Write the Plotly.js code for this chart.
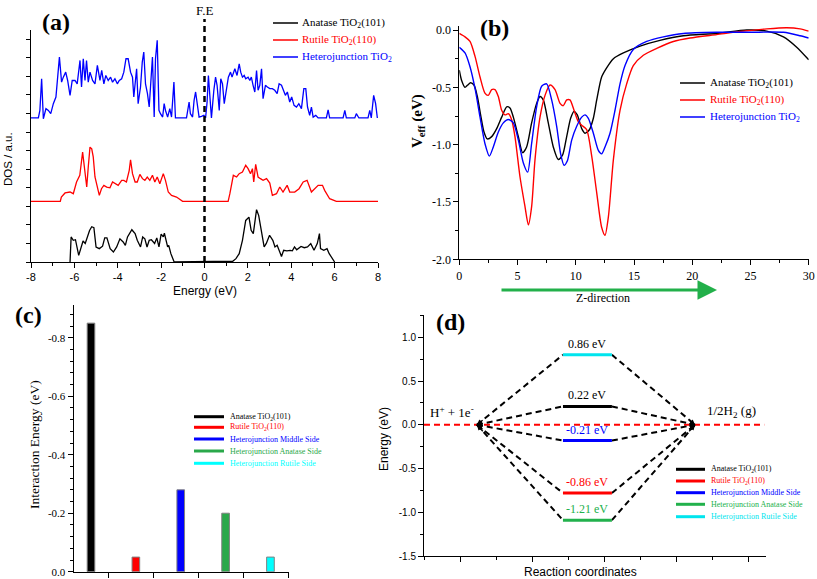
<!DOCTYPE html>
<html><head><meta charset="utf-8">
<script src="https://cdn.plot.ly/plotly-3.0.1.min.js"></script>
<style>html,body{margin:0;padding:0;background:#fff}#chart{width:817px;height:579px}</style>
</head><body><div id="chart"></div>
<script>
// ---------- Panel (a): DOS (offset curves, axis units) ----------
const anatE = [-6.2,-6.15,-6.05,-5.95,-5.8,-5.7,-5.6,-5.5,-5.4,-5.3,-5.2,-5.1,-5.0,-4.85,-4.7,-4.6,-4.5,-4.35,-4.2,-4.05,-3.9,-3.75,-3.65,-3.55,-3.35,-3.2,-3.1,-2.95,-2.85,-2.75,-2.65,-2.55,-2.45,-2.3,-2.2,-2.1,-2.0,-1.9,-1.85,-1.7,-1.65,-1.55,-1.4,1.15,1.3,1.45,1.6,1.75,1.9,2.05,2.15,2.25,2.4,2.5,2.65,2.75,2.85,3.0,3.15,3.25,3.35,3.55,3.65,3.8,3.95,4.05,4.15,4.25,4.45,4.6,4.75,4.9,5.05,5.2,5.3,5.35,5.5,5.65,5.75,5.85,6.0];
const anatDOS = [0,1.35,1.17,1.2,0.36,0.81,1.13,1.0,1.35,1.7,1.9,1.85,0.81,0.72,0.85,1.3,1.3,0.72,0.54,0.81,1.25,1.08,0.9,1.35,1.74,1.53,1.17,0.81,1.35,1.25,0.81,1.17,1.2,1.0,1.3,0.81,1.5,1.35,1.55,0.81,0.9,0.45,0,0,0.04,0.18,0.45,1.17,2.24,2.42,1.71,1.53,2.82,2.5,1.53,0.81,1.0,1.44,1.17,0.81,0.9,0.3,0.63,0.6,0.63,0.6,0.81,0.66,0.84,0.77,0.81,0.99,0.63,0.99,1.53,0.72,0.63,0.72,0.45,0.27,0];
const rutE = [-8,-6.65,-6.6,-6.43,-6.2,-6.05,-5.9,-5.75,-5.62,-5.5,-5.43,-5.36,-5.28,-5.2,-5.13,-5.05,-4.95,-4.85,-4.75,-4.64,-4.51,-4.36,-4.24,-4.08,-3.98,-3.82,-3.72,-3.6,-3.47,-3.41,-3.32,-3.2,-3.1,-2.98,-2.86,-2.75,-2.64,-2.52,-2.4,-2.29,-2.18,-2.06,-1.9,-1.8,-1.67,-1.52,-1.29,-1.01,1.09,1.17,1.33,1.48,1.6,1.75,1.9,2.01,2.12,2.21,2.27,2.36,2.47,2.58,2.7,2.86,3.01,3.13,3.32,3.47,3.62,3.81,3.93,4.16,4.36,4.55,4.73,4.93,5.08,5.24,5.44,5.54,5.77,6.08,8];
const rutDOS = [3.27,3.27,3.50,3.72,3.77,3.68,4.31,4.67,5.92,4.76,4.04,5.12,6.19,6.10,5.66,4.58,4.13,3.59,3.95,4.13,4.04,4.00,4.31,4.22,4.13,4.40,4.40,4.31,4.94,5.51,4.76,4.31,4.31,4.72,4.49,4.40,4.58,4.40,4.67,4.31,4.58,4.22,4.76,4.40,3.77,3.59,3.50,3.27,3.27,3.68,4.67,4.58,4.76,4.85,5.21,5.03,4.76,5.03,4.31,5.26,4.58,4.49,4.40,4.49,4.25,3.59,3.68,4.04,3.77,4.13,3.77,3.77,3.95,4.31,4.40,3.77,3.95,4.13,4.13,3.86,3.41,3.27,3.27];
const hetE = [-8,-7.66,-7.59,-7.51,-7.43,-7.31,-7.2,-7.09,-6.97,-6.85,-6.69,-6.59,-6.51,-6.4,-6.31,-6.2,-6.1,-5.97,-5.87,-5.74,-5.67,-5.59,-5.51,-5.44,-5.36,-5.28,-5.16,-5.05,-4.94,-4.82,-4.74,-4.64,-4.55,-4.44,-4.33,-4.24,-4.13,-4.02,-3.93,-3.82,-3.72,-3.62,-3.52,-3.41,-3.32,-3.26,-3.13,-3.06,-2.95,-2.87,-2.8,-2.72,-2.63,-2.55,-2.49,-2.4,-2.32,-2.26,-2.18,-2.1,-2.03,-1.93,-1.86,-1.8,-1.7,-1.6,-1.52,-1.41,-1.34,-0.83,-0.71,-0.65,-0.55,-0.48,-0.41,-0.32,-0.25,-0.14,-0.03,0.05,0.12,0.18,0.25,0.32,0.43,0.51,0.58,0.68,0.75,0.83,0.91,1.01,1.1,1.2,1.27,1.4,1.5,1.6,1.67,1.75,1.83,1.9,2.01,2.09,2.16,2.24,2.32,2.4,2.47,2.55,2.63,2.7,2.81,2.9,3.01,3.13,3.24,3.35,3.44,3.55,3.62,3.73,3.82,3.93,4.02,4.13,4.24,4.35,4.47,4.58,4.67,4.75,4.85,4.93,5.01,5.13,5.24,5.62,5.7,5.77,6.39,6.47,6.54,6.93,7.0,7.12,7.54,7.62,7.69,7.8,7.89,7.97];
const hetDOS = [7.76,7.76,8.17,9.87,7.72,8.26,8.17,7.99,8.53,8.89,11.04,9.69,9.96,10.23,9.78,8.98,9.78,9.78,9.60,10.86,9.43,10.95,9.78,10.86,9.69,10.23,9.78,9.60,10.59,9.78,10.32,9.60,10.05,9.78,9.96,9.69,9.87,9.60,9.78,9.87,10.23,10.95,10.95,10.23,9.96,8.89,10.41,8.53,9.43,10.77,11.31,9.60,9.07,8.35,9.43,11.04,7.81,10.95,11.94,8.17,7.99,7.81,8.53,8.17,7.81,8.26,7.81,9.69,7.76,7.76,8.62,7.99,7.81,8.71,9.16,8.53,7.81,7.85,7.90,7.76,8.62,10.05,9.07,7.76,9.25,9.96,9.52,8.17,9.87,9.60,8.53,9.25,9.96,10.23,9.96,10.41,10.05,10.68,10.23,9.96,10.05,9.87,9.96,9.78,9.96,9.52,9.16,10.32,9.25,9.52,10.41,8.80,9.52,9.43,9.34,9.34,9.25,9.07,9.60,9.52,9.34,8.98,9.16,8.62,8.89,8.44,8.35,8.53,8.26,9.34,9.34,8.35,7.90,8.35,7.81,7.90,7.76,7.76,8.20,7.76,7.76,8.17,7.76,7.76,7.99,7.76,7.76,8.17,7.76,8.98,8.53,7.76];
const fermiEnergy = 0;

// ---------- Panel (b): effective potential ----------
const zAnat = [0,0.2,0.49,0.72,0.97,1.26,1.55,1.83,2.12,2.4,2.78,3.21,3.64,4.07,4.35,4.64,5.07,5.44,5.78,6.21,6.64,6.93,7.21,7.64,8.07,8.5,8.87,9.22,9.56,9.85,10.13,10.51,10.79,11.17,11.51,11.8,12.22,12.65,13.23,14.09,15.52,17.23,19.24,22.1,24.68,26.4,27.83,28.97,30];
const vAnat = [-0.35,-0.44,-0.5,-0.48,-0.46,-0.48,-0.58,-0.74,-0.89,-0.95,-0.93,-0.86,-0.76,-0.67,-0.68,-0.76,-0.93,-1.07,-1.02,-0.81,-0.64,-0.58,-0.61,-0.81,-1.02,-1.13,-1.09,-0.93,-0.77,-0.71,-0.74,-0.86,-0.9,-0.87,-0.77,-0.61,-0.41,-0.33,-0.25,-0.2,-0.14,-0.09,-0.05,-0.03,0,-0.01,-0.06,-0.15,-0.26];
const zRut = [0,0.49,0.92,1.35,1.78,2.2,2.49,2.78,3.06,3.35,3.64,3.92,4.21,4.49,4.78,5.21,5.64,5.93,6.21,6.5,6.93,7.36,7.79,8.22,8.65,8.93,9.22,9.5,9.85,10.22,10.51,10.94,11.37,11.8,12.22,12.51,12.8,13.23,13.8,14.37,14.94,15.8,16.95,18.38,19.81,22.1,24.39,26.4,28.11,29.26,30];
const vRut = [-0.03,-0.06,-0.1,-0.23,-0.41,-0.55,-0.57,-0.52,-0.52,-0.58,-0.7,-0.74,-0.73,-0.78,-0.93,-1.28,-1.54,-1.7,-1.54,-1.13,-0.76,-0.57,-0.48,-0.52,-0.64,-0.66,-0.61,-0.61,-0.7,-0.8,-0.83,-0.87,-1.1,-1.42,-1.72,-1.79,-1.63,-1.13,-0.7,-0.47,-0.31,-0.22,-0.16,-0.10,-0.07,-0.04,-0.01,0.01,0.02,0.01,-0.01];
const zHet = [0,0.49,0.92,1.35,1.78,2.2,2.58,2.92,3.35,3.78,4.21,4.64,5.07,5.5,5.87,6.21,6.64,7.07,7.5,7.93,8.36,8.7,8.99,9.28,9.65,10.08,10.51,10.79,11.08,11.51,11.94,12.22,12.51,12.94,13.37,13.8,14.23,14.94,16.09,17.52,19.24,22.1,24.96,27.83,29.26,30];
const vHet = [-0.15,-0.2,-0.32,-0.51,-0.76,-0.99,-1.1,-1.02,-0.89,-0.81,-0.78,-0.81,-0.96,-1.16,-1.24,-0.99,-0.67,-0.49,-0.47,-0.61,-0.84,-1.08,-1.18,-1.14,-0.96,-0.84,-0.76,-0.74,-0.77,-0.9,-1.05,-1.08,-1.02,-0.9,-0.7,-0.47,-0.31,-0.17,-0.1,-0.06,-0.03,-0.02,-0.02,-0.02,-0.05,-0.07];

// ---------- Panel (c): interaction energy ----------
const sites = ['Anatase TiO<sub>2</sub>(101)','Rutile TiO<sub>2</sub>(110)','Heterojunction Middle Side','Heterojunction Anatase Side','Heterojunction Rutile Side'];
const interactionEnergy = [-0.85,-0.05,-0.28,-0.20,-0.05];
const siteColors = ['#000000','#ff0000','#0000ff','#2aa84a','#00ffff'];

// ---------- Panel (d): HER free energy diagram ----------
const levelEnergy = [0.21,-0.78,-0.18,-1.09,0.80];
const levelLabels = ['0.22 eV','-0.86 eV','-0.21 eV','-1.21 eV','0.86 eV'];
const levelColors = ['#000000','#ff0000','#0000ff','#22b14c','#00e5ee'];
const startX = 1.47, levelX0 = 3.86, levelX1 = 5.22, endX = 7.53;

// ---------- helpers ----------
const W = 817, H = 579;
const px = x => x / W, py = y => 1 - y / H;
const serif = 'Liberation Serif, Times New Roman, serif';
const sans = 'Liberation Sans, Arial, sans-serif';

const traces = [];
// (a)
traces.push({x: anatE, y: anatDOS, xaxis:'x', yaxis:'y', mode:'lines', line:{color:'#000', width:1.3}});
traces.push({x: rutE, y: rutDOS, xaxis:'x', yaxis:'y', mode:'lines', line:{color:'#ff0000', width:1.3}});
traces.push({x: hetE, y: hetDOS, xaxis:'x', yaxis:'y', mode:'lines', line:{color:'#0000ff', width:1.3}});
// (b)
traces.push({x: zAnat, y: vAnat, xaxis:'x2', yaxis:'y2', mode:'lines', line:{color:'#000', width:1.4, shape:'spline', smoothing:0.7}});
traces.push({x: zRut, y: vRut, xaxis:'x2', yaxis:'y2', mode:'lines', line:{color:'#ff0000', width:1.4, shape:'spline', smoothing:0.7}});
traces.push({x: zHet, y: vHet, xaxis:'x2', yaxis:'y2', mode:'lines', line:{color:'#0000ff', width:1.4, shape:'spline', smoothing:0.7}});
// (c)
traces.push({type:'bar', x: sites.map((s,i)=>i+1), y: interactionEnergy, xaxis:'x3', yaxis:'y3', width:0.17,
  marker:{color: siteColors, line:{color:'#808080', width:1}}, hovertext: sites});
// (d)
traces.push({x:[0, 9.45], y:[0,0], xaxis:'x4', yaxis:'y4', mode:'lines', line:{color:'#ff0000', width:2, dash:'6px,4px'}});
levelEnergy.forEach((lv,i) => {
  traces.push({x:[startX, levelX0, null, levelX1, endX], y:[0, lv, null, lv, 0], xaxis:'x4', yaxis:'y4', mode:'lines',
    line:{color:'#000', width:2, dash:'6px,4px'}});
});
levelEnergy.forEach((lv,i) => {
  traces.push({x:[levelX0, levelX1], y:[lv, lv], xaxis:'x4', yaxis:'y4', mode:'lines', line:{color: levelColors[i], width:3}});
});

const shapes = [];
const annotations = [];
function txt(x, y, text, size, family, extra) {
  annotations.push(Object.assign({xref:'paper', yref:'paper', x, y, text, showarrow:false,
    font:{size, family, color:'#000'}, xanchor:'center', yanchor:'middle'}, extra||{}));
}
function legend(x0, x1, xt, rows, labels, colors, size, lw) {
  labels.forEach((l,i) => {
    shapes.push({type:'line', xref:'paper', yref:'paper', x0:px(x0), x1:px(x1), y0:py(rows[i]), y1:py(rows[i]), line:{color:colors[i], width:lw}});
    txt(px(xt), py(rows[i]), l, size, serif, {xanchor:'left', font:{size, family:serif, color: colors[i]}});
  });
}

// panel labels
txt(px(40), py(22), '<b>(a)</b>', 24, serif, {xanchor:'left'});
txt(px(478), py(28), '<b>(b)</b>', 24, serif, {xanchor:'left'});
txt(px(13), py(315), '<b>(c)</b>', 24, serif, {xanchor:'left'});
txt(px(434), py(322), '<b>(d)</b>', 24, serif, {xanchor:'left'});

// (a) extras
shapes.push({type:'line', xref:'x', yref:'paper', x0:fermiEnergy, x1:fermiEnergy, y0:py(262), y1:py(19), line:{color:'#000', width:2.5, dash:'6px,4px'}});
annotations.push({xref:'x', yref:'paper', x:fermiEnergy, y:py(1), yanchor:'top', text:'F.E', showarrow:false, font:{size:13, family:serif, color:'#000'}});
txt(px(204.5), py(291), 'Energy (eV)', 12, sans);
txt(px(8), py(159), 'DOS / a.u.', 11.5, sans, {textangle:-90});
legend(273, 298, 300, [23,40,57], ['Anatase TiO<sub>2</sub>(101)','Rutile TiO<sub>2</sub>(110)','Heterojunction TiO<sub>2</sub>'], ['#000','#ff0000','#0000ff'], 11, 1.5);

// (b) extras
txt(px(418), py(121), '<b>V<sub>eff</sub> (eV)</b>', 15, serif, {textangle:-90});
legend(680, 705, 708, [83,100,117], ['Anatase TiO<sub>2</sub>(101)','Rutile TiO<sub>2</sub>(110)','Heterojunction TiO<sub>2</sub>'], ['#000','#ff0000','#0000ff'], 11, 1.5);
annotations.push({xref:'paper', yref:'paper', x:px(717), y:py(290), ax:-217, ay:0, axref:'pixel', ayref:'pixel', text:'', showarrow:true,
  arrowhead:2, arrowsize:1.3, arrowwidth:3, arrowcolor:'#22b04a'});
txt(px(603), py(298), 'Z-direction', 12, serif);

// (c) extras
txt(px(34), py(445), 'Interaction Energy (eV)', 13.5, serif, {textangle:-90});
legend(194, 224, 228, [416.7,427.3,439,451,463.3], sites, siteColors, 8, 3);

// (d) extras
levelEnergy.forEach((lv,i) => {
  annotations.push({xref:'x4', yref:'y4', x:(levelX0+levelX1)/2, y:lv, yshift:11, text:levelLabels[i], showarrow:false,
    font:{size:12, family:serif, color: levelColors[i] === '#00e5ee' ? '#000' : levelColors[i]}});
  const s = 0.2 / (levelX0 - startX);
  annotations.push({xref:'x4', yref:'y4', x:startX, y:0, ax:startX + 0.2, ay:lv * s, axref:'x4', ayref:'y4', text:'', showarrow:true,
    arrowhead:2, arrowsize:0.8, arrowwidth:1.3, arrowcolor:'#000'});
  annotations.push({xref:'x4', yref:'y4', x:endX, y:0, ax:endX - 0.2, ay:lv * s, axref:'x4', ayref:'y4', text:'', showarrow:true,
    arrowhead:2, arrowsize:0.8, arrowwidth:1.3, arrowcolor:'#000'});
});
annotations.push({xref:'x4', yref:'y4', x:0.78, y:0.15, text:'H<sup>+</sup> + 1e<sup>-</sup>', showarrow:false, font:{size:13, family:serif, color:'#000'}});
annotations.push({xref:'x4', yref:'y4', x:8.55, y:0.15, text:'1/2H<sub>2</sub> (g)', showarrow:false, font:{size:13, family:serif, color:'#000'}});
txt(px(384), py(439), 'Energy (eV)', 12, sans, {textangle:-90});
txt(px(580), py(572), 'Reaction coordinates', 12, sans);
legend(676, 705, 709, [469.3,481,492.7,504.3,516.7], sites, levelColors, 8, 3);

const axBase = {showline:true, linecolor:'#000', linewidth:1, showgrid:false, zeroline:false, ticks:'outside', tickcolor:'#000', ticklen:5, tickwidth:1};
const aX = [-8,-6,-4,-2,0,2,4,6,8];
const bX = [0,5,10,15,20,25,30];
const bY = [-2.0,-1.5,-1.0,-0.5,0.0];
const cY = [-0.8,-0.6,-0.4,-0.2,0.0];
const dY = [-1.5,-1.0,-0.5,0.0,0.5,1.0];
const f1 = v => (v < 0 ? '-' : '') + Math.abs(v).toFixed(1);

const layout = {
  width: W, height: H, margin:{l:0,r:0,t:0,b:0}, showlegend:false, paper_bgcolor:'#fff', plot_bgcolor:'#fff',
  xaxis: Object.assign({}, axBase, {domain:[px(31),px(378)], range:[-8,8], anchor:'y', tickmode:'array', tickvals:aX, ticktext:aX.map(String),
    minor:{tickmode:'linear', tick0:0, dtick:1, ticks:'outside', ticklen:3, tickcolor:'#000'}, tickfont:{family:sans, size:11, color:'#000'}}),
  yaxis: Object.assign({}, axBase, {domain:[py(262),py(30)], range:[0,12.5], anchor:'x', showticklabels:false, tickmode:'linear', tick0:0, dtick:1, ticklen:4}),
  xaxis2: Object.assign({}, axBase, {domain:[px(459.3),px(808.7)], range:[0,30], anchor:'y2', tickmode:'array', tickvals:bX, ticktext:bX.map(String),
    minor:{tickmode:'linear', tick0:0, dtick:2.5, ticks:'outside', ticklen:3, tickcolor:'#000'}, tickfont:{family:serif, size:12, color:'#000'}}),
  yaxis2: Object.assign({}, axBase, {domain:[py(259.3),py(26)], range:[-2.0,0.035], anchor:'x2', tickmode:'array', tickvals:bY, ticktext:bY.map(f1),
    minor:{tickmode:'linear', tick0:0, dtick:0.25, ticks:'outside', ticklen:3, tickcolor:'#000'}, tickfont:{family:serif, size:12, color:'#000'}}),
  xaxis3: Object.assign({}, axBase, {domain:[px(73.5),px(289.3)], range:[0.61,5.42], anchor:'y3', tickmode:'array', tickvals:[1.4,2.4,3.4,4.4,5.4], showticklabels:false}),
  yaxis3: Object.assign({}, axBase, {domain:[py(571.7),py(305)], range:[0,-0.912], anchor:'x3', tickmode:'array', tickvals:cY, ticktext:cY.map(f1),
    minor:{tickmode:'linear', tick0:0, dtick:0.04, ticks:'outside', ticklen:3, tickcolor:'#000'}, tickfont:{family:serif, size:11, color:'#000'}}),
  xaxis4: Object.assign({}, axBase, {domain:[px(424),px(766)], range:[0,9.5], anchor:'y4', tickmode:'array', tickvals:[1,3,5,7,9], showticklabels:false,
    minor:{tickmode:'linear', tick0:0, dtick:1, ticks:'outside', ticklen:3, tickcolor:'#000'}}),
  yaxis4: Object.assign({}, axBase, {domain:[py(556),py(315)], range:[-1.5,1.255], anchor:'x4', tickmode:'array', tickvals:dY, ticktext:dY.map(f1),
    minor:{tickmode:'linear', tick0:0, dtick:0.25, ticks:'outside', ticklen:3, tickcolor:'#000'}, tickfont:{family:sans, size:10, color:'#000'}}),
  shapes, annotations
};

Plotly.newPlot('chart', traces, layout, {staticPlot:true, displayModeBar:false});
</script></body></html>
